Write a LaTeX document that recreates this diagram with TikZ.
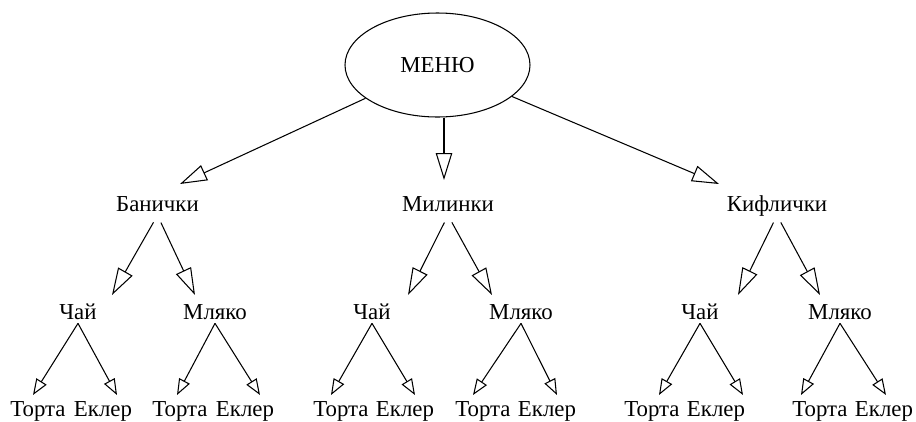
\documentclass[tikz,border=0pt]{standalone}
\usepackage{fontspec}
\setmainfont{Liberation Serif}
\usetikzlibrary{arrows.meta,shapes.geometric,positioning}
\tikzset{
    menuoval/.style={
    ellipse,draw=black,line width=0.6pt,minimum width=3.7cm,minimum height=2.08cm,inner sep=0pt,font=\fontsize{13}{15}\selectfont
    },
    dish/.style={
    inner sep=0pt,anchor=base,text height=0.3cm,text depth=0.08cm,font=\fontsize{13}{15}\selectfont
    },
    bigarrow/.style={
    line width=0.6pt,-{Triangle[open,length=0.54cm,width=0.33cm]}
    },
    smallarrow/.style={
    line width=0.6pt,-{Triangle[open,length=0.32cm,width=0.24cm]}
    },
}
\begin{document}
\begin{tikzpicture}
   \useasboundingbox (0,0) rectangle (18.32,-8.42);
   % root
   \node[menuoval] (menu) at (8.75,-1.30) {МЕНЮ};
   % first level
   \node[dish] (ban) at (3.15,-4.22) {Банички};
   \node[dish] (mil) at (8.96,-4.22) {Милинки};
   \node[dish] (kif) at (15.54,-4.22) {Кифлички};
   % second level
   \node[dish] (banchai) at (1.56,-6.38) {Чай};
   \node[dish] (banmlq) at (4.30,-6.38) {Мляко};
   \node[dish] (milchai) at (7.44,-6.38) {Чай};
   \node[dish] (milmlq) at (10.42,-6.38) {Мляко};
   \node[dish] (kifchai) at (14.00,-6.38) {Чай};
   \node[dish] (kifmlq) at (16.80,-6.38) {Мляко};
   % third level
   \node[dish] (t1) at (0.76,-8.32) {Торта};
   \node[dish] (e1) at (2.06,-8.32) {Еклер};
   \node[dish] (t2) at (3.60,-8.32) {Торта};
   \node[dish] (e2) at (4.90,-8.32) {Еклер};
   \node[dish] (t3) at (6.82,-8.32) {Торта};
   \node[dish] (e3) at (8.10,-8.32) {Еклер};
   \node[dish] (t4) at (9.66,-8.32) {Торта};
   \node[dish] (e4) at (10.94,-8.32) {Еклер};
   \node[dish] (t5) at (13.04,-8.32) {Торта};
   \node[dish] (e5) at (14.32,-8.32) {Еклер};
   \node[dish] (t6) at (16.40,-8.32) {Торта};
   \node[dish] (e6) at (17.68,-8.32) {Еклер};

   % arrow tips
   \coordinate (banT) at (3.60,-3.68);
   \coordinate (milT) at (8.88,-3.60);
   \coordinate (kifT) at (14.38,-3.68);
   \coordinate (banL) at (2.24,-5.90);
   \coordinate (banR) at (3.90,-5.90);
   \coordinate (milL) at (8.16,-5.90);
   \coordinate (milR) at (9.84,-5.90);
   \coordinate (kifL) at (14.76,-5.90);
   \coordinate (kifR) at (16.40,-5.90);
   \coordinate (banchaiL) at (0.66,-7.90);
   \coordinate (banchaiR) at (2.34,-7.90);
   \coordinate (banmlqL) at (3.54,-7.90);
   \coordinate (banmlqR) at (5.20,-7.90);
   \coordinate (milchaiL) at (6.62,-7.90);
   \coordinate (milchaiR) at (8.30,-7.90);
   \coordinate (milmlqL) at (9.46,-7.90);
   \coordinate (milmlqR) at (11.14,-7.90);
   \coordinate (kifchaiL) at (13.18,-7.90);
   \coordinate (kifchaiR) at (14.86,-7.90);
   \coordinate (kifmlqL) at (16.02,-7.90);
   \coordinate (kifmlqR) at (17.72,-7.90);

  \path[bigarrow]
    (menu) edge (banT)
    (milT |- menu.south) edge (milT)
    (menu) edge (kifT);
  \path[bigarrow, shorten <=0.16cm]
    (ban.south) edge (banL)
    (ban.south) edge (banR)
    (mil.south) edge (milL)
    (mil.south) edge (milR)
    (kif.south) edge (kifL)
    (kif.south) edge (kifR);
  \path[smallarrow]
    (banchai.south) edge (banchaiL)
    (banchai.south) edge (banchaiR)
    (banmlq.south) edge (banmlqL)
    (banmlq.south) edge (banmlqR)
    (milchai.south) edge (milchaiL)
    (milchai.south) edge (milchaiR)
    (milmlq.south) edge (milmlqL)
    (milmlq.south) edge (milmlqR)
    (kifchai.south) edge (kifchaiL)
    (kifchai.south) edge (kifchaiR)
    (kifmlq.south) edge (kifmlqL)
    (kifmlq.south) edge (kifmlqR);
  \end{tikzpicture}
\end{document}
